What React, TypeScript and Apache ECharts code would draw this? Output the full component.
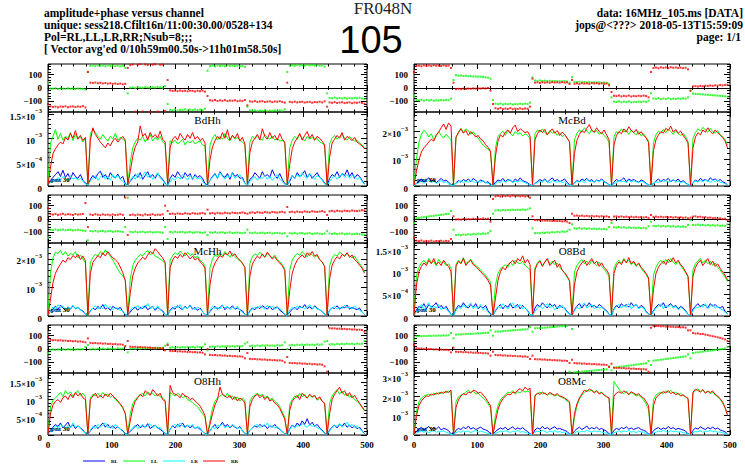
import React, { useEffect, useRef } from "react";
import * as echarts from "echarts";

// channel spacing of the samples: 16 samples per 62.5-channel subband, 8 subbands
const STEP = 62.5 / 16;
const X_TICKS = [0, 100, 200, 300, 400, 500];
const PHASE_TICKS = [-100, 0, 100];

// ---------- amplitudes, in units of 1e-5 ----------
const L1_RR = [
  2,40,68,78,86,92,88,102,96,110,100,116,98,106,95,102,
  4,96,122,108,100,92,86,80,90,84,95,100,92,98,104,96,
  3,30,62,82,92,126,104,110,96,112,102,108,100,115,98,92,
  5,80,98,104,96,110,102,96,108,100,112,98,104,95,100,90,
  2,55,82,95,104,98,112,100,118,96,106,100,110,94,102,88,
  4,70,92,100,108,96,120,104,98,112,100,106,96,110,98,92,
  3,45,78,92,100,110,96,106,114,100,108,96,104,100,94,86,
  2,60,90,98,106,100,112,96,104,100,95,102,92,88,84,78];
const L1_LL = [
  3,90,104,118,98,110,96,104,100,112,95,108,99,104,92,100,
  3,110,118,112,104,98,108,100,94,104,98,110,96,102,98,94,
  2,50,80,92,100,96,104,92,100,108,94,102,96,104,92,88,
  4,95,90,96,88,92,98,86,94,90,96,88,92,94,86,84,
  3,85,100,108,96,104,98,110,100,94,106,98,102,96,92,86,
  2,92,104,98,106,100,96,108,102,98,104,96,100,94,96,90,
  3,80,96,104,98,108,100,94,104,98,102,96,100,92,90,84,
  2,88,100,106,98,104,108,100,96,104,98,94,96,90,86,80];
const L1_RL = [
  2,12,18,24,30,20,33,18,26,14,28,20,16,24,12,6,
  1,14,22,16,26,31,18,24,14,28,20,17,25,15,20,5,
  2,10,16,24,18,28,14,22,30,18,24,16,26,20,14,6,
  1,16,24,18,30,22,16,28,20,26,14,24,18,22,16,5,
  2,12,20,26,16,30,22,18,26,14,28,20,24,16,18,6,
  1,14,18,28,22,16,30,20,24,18,34,22,16,26,14,5,
  2,10,22,16,28,20,24,32,18,26,16,22,28,18,14,6,
  1,16,24,20,30,18,26,22,34,20,28,16,24,20,12,4];
const L1_LR = [
  1,8,14,10,18,12,20,16,10,22,14,18,12,16,10,4,
  2,10,16,22,12,18,26,14,20,12,24,16,22,14,10,3,
  1,12,20,14,26,16,22,30,18,24,14,20,28,16,12,4,
  2,8,16,12,20,14,24,18,12,22,16,20,14,18,10,3,
  1,12,18,24,16,28,20,14,22,18,26,16,20,24,14,5,
  2,10,14,20,12,18,16,22,14,20,12,18,24,14,10,3,
  1,14,22,16,24,18,28,20,16,26,20,14,22,18,12,4,
  2,10,16,22,14,20,26,18,24,16,22,20,14,18,10,3];

const R1_RR = [
  3,55,95,125,140,150,162,172,165,188,198,214,228,208,232,220,
  4,180,196,210,194,204,186,200,190,180,186,172,166,152,142,128,
  3,110,165,188,180,198,206,194,214,224,200,210,204,196,200,184,
  5,170,192,206,196,208,188,200,210,194,204,186,198,190,176,162,
  4,120,168,190,204,196,212,226,204,198,214,200,192,206,188,170,
  3,150,186,200,192,210,198,218,204,196,208,190,200,186,178,160,
  4,130,170,188,200,194,212,204,220,198,208,194,202,186,174,158,
  3,140,180,196,188,206,198,214,200,192,206,196,188,178,166,140];
const R1_LL = [
  4,100,160,190,205,196,180,192,170,182,200,186,176,190,180,170,
  3,176,198,212,196,210,204,190,200,186,176,162,150,142,136,124,
  3,140,182,192,202,186,206,194,184,200,190,196,184,192,186,176,
  4,192,206,198,210,196,188,204,194,200,186,196,182,190,176,164,
  3,170,194,206,198,214,202,192,208,196,204,190,198,186,176,162,
  4,182,200,194,210,198,204,190,206,196,188,200,184,192,178,166,
  3,160,188,202,194,208,196,210,200,190,204,192,186,194,180,164,
  4,176,196,210,202,216,206,198,212,200,194,204,188,182,170,150];
const R1_RL = [
  2,10,18,26,14,22,30,16,24,12,20,28,18,22,14,5,
  1,12,20,14,24,18,26,16,28,20,14,22,18,12,16,4,
  2,14,22,18,28,16,24,20,14,26,18,30,20,16,12,5,
  1,10,16,24,18,26,14,22,30,18,24,16,20,26,14,4,
  2,12,20,16,26,20,28,18,24,14,22,18,26,16,12,5,
  1,14,24,18,22,30,16,26,20,24,18,14,22,18,10,4,
  2,10,18,26,16,24,20,28,16,22,18,26,14,20,12,5,
  1,12,22,16,28,20,24,18,30,22,26,18,24,16,12,4];
const R1_LR = [
  1,8,12,18,10,16,22,12,18,10,14,20,12,16,8,3,
  2,10,14,20,12,18,14,22,16,12,18,14,20,12,10,3,
  1,8,16,12,20,14,18,24,12,18,14,20,16,12,8,4,
  2,10,12,18,14,22,16,12,20,16,14,18,12,16,8,3,
  1,12,18,14,20,12,24,16,18,14,20,16,22,14,10,4,
  2,8,14,20,16,18,12,22,14,20,16,12,18,14,8,3,
  1,10,16,12,22,16,20,14,18,24,14,18,12,16,10,4,
  2,12,18,14,20,16,22,18,14,20,16,22,14,12,8,3];

const L2_RR = [
  2,60,118,150,168,182,196,188,204,198,212,204,216,198,210,194,
  3,150,188,200,212,204,222,210,226,214,204,198,188,172,152,124,
  2,80,140,168,186,196,206,198,214,226,218,236,226,214,204,188,
  4,170,196,210,202,216,206,222,212,200,210,196,204,190,182,168,
  3,110,162,186,200,212,206,220,214,228,210,218,204,196,186,170,
  2,140,182,198,210,202,218,206,224,212,200,208,194,186,176,160,
  3,90,150,178,196,206,214,204,222,212,226,210,216,198,190,174,
  2,130,178,196,208,200,216,210,222,206,214,198,190,178,168,150];
const L2_LL = [
  3,150,204,224,218,230,214,226,210,220,214,226,204,214,200,186,
  2,188,206,216,210,226,214,232,220,210,196,180,164,150,140,128,
  3,130,176,196,206,216,210,222,230,214,222,210,206,200,194,184,
  2,196,212,222,214,228,218,210,224,212,218,204,210,196,188,176,
  3,170,200,214,208,222,212,226,216,206,220,208,200,194,184,172,
  2,184,208,218,212,224,214,206,220,210,204,214,198,190,180,166,
  3,160,196,210,220,212,226,216,208,222,214,206,212,198,188,174,
  2,176,204,216,210,224,218,208,220,212,204,210,196,184,172,156];
const L2_RL = [
  3,16,26,34,22,38,28,20,32,24,36,26,30,22,18,6,
  2,18,28,22,34,26,40,24,30,20,34,28,24,30,16,5,
  3,14,24,32,20,30,26,36,22,28,34,20,30,24,18,6,
  2,20,30,24,36,28,22,34,26,38,24,30,20,28,16,5,
  3,16,26,34,24,30,38,22,32,26,36,24,28,22,18,6,
  2,18,28,22,32,26,36,30,24,34,22,28,32,20,14,5,
  3,14,24,30,22,34,28,40,26,32,24,36,26,22,16,6,
  2,20,30,26,36,24,32,28,38,24,30,26,22,28,14,5];
const L2_LR = [
  2,20,32,24,40,28,36,22,30,26,38,24,32,20,16,5,
  3,16,28,36,24,32,26,42,28,34,22,30,26,20,18,6,
  2,22,30,26,38,24,34,28,44,26,32,24,36,22,14,5,
  3,18,26,34,28,40,24,30,26,36,28,22,32,24,16,6,
  2,20,34,26,30,24,38,28,34,22,30,26,34,20,14,5,
  3,16,24,32,26,36,30,24,38,28,34,24,30,26,18,6,
  2,22,30,24,36,28,32,26,30,40,26,32,24,22,16,5,
  3,18,28,34,24,30,26,38,28,32,24,36,26,20,14,6];

const R2_RR = [
  2,70,100,112,120,114,126,118,130,116,122,114,126,118,112,100,
  3,112,124,118,130,114,122,126,116,112,106,100,94,88,80,70,
  2,40,80,100,110,104,116,120,126,118,130,124,136,120,128,116,
  4,104,118,124,112,122,130,114,120,126,110,118,104,98,90,80,
  2,70,100,112,120,126,114,122,130,118,124,112,120,110,104,94,
  3,96,114,122,116,128,120,132,118,124,114,120,110,104,96,86,
  2,60,96,110,118,124,116,128,122,132,120,126,116,110,100,90,
  3,90,110,120,126,114,122,130,116,124,112,118,108,100,92,82];
const R2_LL = [
  3,92,110,120,126,118,130,120,124,114,128,120,122,114,118,108,
  2,116,126,120,132,118,124,128,120,114,110,104,98,92,84,76,
  3,70,96,106,112,116,110,122,114,126,120,118,124,114,110,104,
  2,108,120,126,114,122,128,118,124,116,120,110,104,96,88,78,
  3,100,114,122,128,118,124,116,126,120,114,122,112,106,98,90,
  2,108,120,126,118,130,122,126,116,122,112,118,108,100,94,84,
  3,92,110,120,126,118,128,120,130,122,116,124,114,106,98,88,
  2,104,118,124,130,120,126,118,124,114,120,110,104,96,88,78];
const R2_RL = [
  2,14,22,18,28,16,26,20,24,30,18,24,16,22,12,4,
  1,16,24,20,30,22,18,26,20,28,16,22,18,24,12,5,
  2,12,20,26,16,24,20,28,18,22,26,16,24,18,12,4,
  1,18,26,20,30,24,18,28,22,26,16,24,20,18,10,5,
  2,14,22,28,18,26,22,30,20,24,18,26,22,16,12,4,
  1,16,24,18,28,22,26,20,30,22,26,18,24,20,10,5,
  2,12,20,26,22,30,18,24,28,20,24,16,22,18,12,4,
  1,16,22,28,20,26,24,18,28,22,26,20,18,22,10,5];
const R2_LR = [
  1,10,18,26,14,22,30,16,22,18,26,14,20,16,10,3,
  2,12,20,16,26,18,24,30,16,22,18,26,14,18,8,4,
  1,14,22,18,28,20,16,24,30,18,22,26,16,20,10,3,
  2,10,18,24,16,22,28,18,24,14,20,18,24,16,8,4,
  1,12,20,16,24,30,18,22,26,16,22,18,20,14,10,3,
  2,14,22,26,18,24,20,28,16,22,26,16,20,18,8,4,
  1,10,18,22,28,16,24,20,26,18,22,14,20,16,10,3,
  2,12,20,18,24,20,28,16,22,26,18,22,16,14,8,4];

const L3_RR = [
  2,60,85,95,100,92,105,110,100,115,105,120,110,118,105,100,
  3,100,110,118,105,112,104,116,108,118,110,104,96,88,78,60,
  2,40,75,95,105,115,108,125,118,112,128,120,110,118,100,95,
  4,140,120,115,112,105,118,110,108,100,104,96,90,82,70,55,
  2,30,60,85,100,135,115,110,105,112,100,108,96,104,100,90,
  2,80,100,110,115,105,112,100,108,96,100,90,85,75,60,45,
  2,70,95,105,112,100,118,110,104,115,108,112,100,108,95,90,
  2,60,100,115,125,135,118,125,110,120,105,112,100,90,80,70];
const L3_LL = [
  3,80,98,105,112,120,108,125,115,122,110,118,125,112,118,108,
  3,105,115,110,118,108,120,112,116,106,112,100,94,86,76,62,
  3,60,88,100,108,112,118,110,122,115,118,110,116,108,104,98,
  3,120,115,110,118,112,105,110,100,96,92,85,80,70,60,50,
  2,40,75,95,105,110,115,108,118,105,110,100,108,96,104,98,
  3,95,108,112,118,110,115,105,110,100,104,95,90,80,65,50,
  3,85,100,110,105,118,108,115,104,112,106,110,98,104,96,88,
  3,90,110,120,128,115,124,112,118,106,112,100,95,88,78,68];
const L3_RL = [
  2,14,22,30,24,34,20,28,36,22,30,18,26,20,14,5,
  1,12,20,28,18,26,34,22,30,20,26,18,24,16,12,4,
  2,10,18,24,30,20,26,22,32,18,24,28,20,16,10,5,
  1,16,26,20,30,24,34,22,28,20,26,18,22,16,10,4,
  2,12,22,30,18,26,36,24,30,20,28,22,18,24,12,5,
  1,14,20,26,22,30,24,28,18,26,22,30,20,16,10,4,
  2,18,28,22,34,26,40,30,46,28,36,24,30,20,14,5,
  1,14,22,28,20,30,24,34,22,28,20,26,18,22,12,4];
const L3_LR = [
  1,10,18,26,20,30,24,16,28,20,34,22,26,18,12,4,
  2,14,24,18,30,22,28,34,20,26,18,30,22,16,10,3,
  1,12,20,28,18,24,30,22,26,32,20,28,18,22,12,4,
  2,16,24,30,22,34,26,20,28,24,30,18,24,20,10,3,
  1,12,22,18,28,24,32,20,26,22,30,24,18,22,12,4,
  2,14,20,26,30,20,28,24,34,22,26,20,24,16,10,3,
  1,16,26,20,28,24,32,26,22,30,24,28,20,18,12,4,
  2,12,20,28,24,32,22,28,36,24,30,22,26,18,10,3];

const R3_RR = [
  2,100,150,175,190,200,198,210,205,215,210,220,214,225,218,230,
  2,140,180,200,212,205,220,215,230,225,215,220,205,190,170,150,
  2,70,130,165,185,200,210,205,220,215,230,238,225,245,232,240,
  3,200,215,208,220,212,206,218,210,204,212,200,196,190,180,170,
  2,110,160,190,210,230,222,236,228,216,226,210,218,204,196,190,
  3,200,215,222,214,226,218,210,222,214,206,212,198,190,172,150,
  2,150,190,205,214,222,216,228,212,220,206,214,200,206,196,188,
  4,220,235,228,220,232,214,224,218,226,208,200,186,170,140,100];
const R3_LL = [
  3,120,170,190,200,205,210,202,215,208,220,212,222,216,225,220,
  3,170,195,205,210,220,230,218,225,210,214,200,190,176,160,140,
  3,100,150,180,195,205,220,215,228,210,222,216,230,220,226,218,
  2,205,212,220,210,216,204,212,208,200,206,198,192,186,175,165,
  3,90,150,185,205,218,230,224,232,220,228,214,220,206,198,188,
  4,275,255,235,220,212,225,205,218,210,200,206,192,180,160,130,
  3,180,205,214,220,212,226,218,230,214,220,208,214,202,196,185,
  3,215,230,236,224,230,218,226,212,220,204,196,182,164,140,105];
const R3_RL = [
  3,20,30,40,26,34,44,28,36,30,42,26,34,30,22,6,
  2,24,34,28,40,32,46,30,38,28,34,40,30,26,20,5,
  3,18,28,36,30,40,26,34,42,28,36,30,38,26,18,6,
  2,26,36,30,44,32,38,28,36,42,30,34,28,24,18,5,
  3,20,32,40,28,36,46,30,38,32,40,28,34,26,20,6,
  2,24,34,28,38,32,42,30,36,28,34,38,28,24,18,5,
  3,22,32,38,28,36,30,44,32,38,28,34,30,26,20,6,
  2,24,36,30,42,34,28,38,32,40,30,36,26,22,16,5];
const R3_LR = [
  2,10,16,22,14,20,12,18,24,14,20,16,22,14,10,3,
  1,12,18,14,22,16,20,12,18,24,14,20,16,12,8,2,
  2,8,14,20,16,22,18,12,20,16,24,14,18,14,10,3,
  1,14,20,16,24,18,12,20,16,22,14,18,12,16,8,2,
  2,10,18,14,20,16,24,18,14,22,16,20,14,12,10,3,
  1,12,16,22,14,20,18,24,14,18,12,20,16,14,8,2,
  2,10,14,20,16,24,18,14,22,16,20,14,18,12,10,3,
  1,12,18,16,22,14,20,18,24,16,20,14,16,12,8,2];

// ---------- phases, degrees ----------
const L1_PH_RR = [
  -120,-138,-142,-140,-145,-139,-141,-137,-144,-140,-138,-143,-139,-141,-136,-146,
  120,40,38,41,36,39,34,37,33,36,31,34,30,33,28,31,
  150,172,176,-178,174,179,-176,177,173,-179,175,178,-177,174,176,-172,
  60,-18,-22,-20,-24,-19,-23,-21,-25,-20,-22,-26,-21,-24,-20,-28,
  -60,-92,-95,-90,-97,-93,-96,-91,-98,-94,-96,-92,-99,-95,-97,-90,
  -130,-100,-103,-98,-104,-101,-99,-105,-102,-100,-106,-101,-103,-99,-104,-110,
  40,-104,-107,-102,-108,-105,-103,-109,-106,-104,-110,-105,-107,-103,-108,-100,
  -140,-108,-111,-106,-112,-109,-107,-113,-110,-108,-114,-109,-111,-107,-112,-118];
const L1_PH_LL = [
  40,-4,-6,-2,-8,-3,-5,-7,-2,-6,-4,-8,-3,-5,-6,-12,
  120,166,169,164,171,167,168,163,170,165,169,164,167,162,166,150,
  -40,2,5,0,6,3,1,7,4,2,6,3,8,5,2,14,
  -120,-163,-167,-161,-169,-164,-166,-160,-168,-163,-166,-161,-165,-162,-167,-155,
  130,164,167,162,169,165,168,163,170,166,168,164,167,163,166,158,
  -140,-168,-171,-166,-173,-169,-172,-167,-174,-170,-172,-168,-171,-167,-170,-160,
  120,168,171,166,173,169,172,167,174,170,172,168,171,167,170,160,
  -40,-74,-77,-72,-79,-75,-78,-73,-80,-76,-78,-74,-77,-73,-79,-84];
const R1_PH_RR = [
  120,165,168,163,170,166,169,164,171,167,168,165,170,166,168,150,
  40,-8,-6,-9,-5,-7,-4,-6,-3,-5,-2,-4,-1,-3,0,-20,
  -120,-152,-156,-150,-158,-154,-157,-151,-159,-155,-157,-153,-158,-154,-156,-140,
  70,40,42,38,44,40,43,39,45,41,43,40,44,41,42,30,
  60,32,35,30,36,33,35,31,37,34,36,32,35,31,34,20,
  -30,-58,-61,-56,-63,-59,-62,-57,-64,-60,-62,-58,-61,-57,-60,-70,
  120,150,153,148,155,151,154,149,156,152,154,150,153,149,152,140,
  -20,12,14,11,16,13,17,15,19,16,20,18,22,19,23,25];
const R1_PH_LL = [
  -60,-90,-93,-88,-95,-91,-94,-89,-96,-92,-94,-90,-93,-89,-92,-80,
  60,96,93,94,90,91,88,89,86,87,84,85,82,80,78,70,
  -90,-118,-121,-116,-123,-119,-122,-117,-124,-120,-122,-118,-121,-117,-120,-110,
  80,56,54,57,53,55,52,54,51,53,50,52,49,51,48,40,
  80,46,44,47,43,45,42,44,41,43,40,42,39,41,38,30,
  -70,-102,-105,-100,-107,-103,-106,-101,-108,-104,-106,-102,-105,-101,-104,-95,
  -40,-78,-81,-76,-83,-79,-82,-77,-84,-80,-82,-78,-81,-77,-80,-70,
  -20,-42,-44,-45,-47,-48,-50,-51,-53,-54,-56,-57,-59,-60,-62,-65];
const L2_PH_RR = [
  80,36,33,38,31,35,39,32,36,34,30,37,33,35,38,120,
  -60,34,30,36,32,29,35,31,33,28,34,30,32,36,31,160,
  -120,30,34,28,33,31,27,35,30,32,36,29,33,31,35,100,
  60,38,41,36,42,39,37,43,40,38,44,41,39,42,45,40,
  70,42,45,40,46,43,41,47,44,42,48,45,43,46,49,44,
  40,47,50,45,51,48,46,52,49,47,53,50,48,51,54,49,
  90,52,55,50,56,53,51,57,54,52,58,55,53,56,59,54,
  30,58,61,56,62,59,57,63,60,58,64,61,59,62,66,64];
const L2_PH_LL = [
  -140,-80,-83,-78,-84,-81,-79,-85,-82,-80,-86,-83,-81,-84,-87,-90,
  -160,-90,-93,-88,-94,-91,-89,-95,-92,-90,-96,-93,-91,-94,-97,-60,
  160,-96,-99,-94,-100,-97,-95,-101,-98,-96,-102,-99,-97,-100,-103,-60,
  -150,-97,-100,-95,-101,-98,-96,-102,-99,-97,-103,-100,-98,-101,-104,-100,
  -120,-100,-103,-98,-104,-101,-99,-105,-102,-100,-106,-103,-101,-104,-107,-103,
  -80,-103,-106,-101,-107,-104,-102,-108,-105,-103,-109,-106,-104,-107,-110,-106,
  -130,-106,-109,-104,-110,-107,-105,-111,-108,-106,-112,-109,-107,-110,-113,-109,
  -90,-109,-112,-107,-113,-110,-108,-114,-111,-109,-115,-112,-110,-113,-116,-118];
const R2_PH_RR = [
  -140,-163,-166,-161,-168,-164,-167,-162,-169,-165,-167,-163,-168,-164,-166,-150,
  20,-4,-2,-5,0,-3,1,-2,2,-1,3,0,4,1,2,-20,
  150,170,173,168,175,171,174,169,176,172,174,170,173,169,172,160,
  20,-8,-10,-9,-12,-11,-13,-12,-15,-14,-16,-15,-18,-17,-19,-30,
  40,24,26,22,25,21,24,20,23,19,22,18,21,17,20,15,
  -10,18,20,16,19,15,18,14,17,13,16,12,15,11,14,8,
  30,16,18,14,17,13,16,12,15,11,14,10,13,9,12,5,
  10,18,20,15,17,12,14,9,11,6,8,3,5,0,2,-8];
const R2_PH_LL = [
  -30,6,9,12,14,17,19,22,24,27,29,32,34,37,39,60,
  -80,-120,-118,-121,-116,-119,-114,-117,-112,-115,-110,-113,-108,-111,-106,-90,
  40,64,66,63,67,65,68,66,69,67,70,68,71,69,72,80,
  -70,-106,-104,-107,-102,-105,-100,-103,-98,-101,-96,-99,-94,-97,-92,-80,
  -40,-70,-72,-68,-73,-70,-74,-71,-75,-72,-76,-73,-77,-74,-78,-60,
  -30,-62,-64,-60,-65,-62,-66,-63,-67,-64,-68,-65,-69,-66,-70,-55,
  -20,-52,-54,-50,-55,-52,-56,-53,-57,-54,-58,-55,-59,-56,-60,-45,
  -10,-44,-46,-42,-47,-44,-48,-45,-49,-46,-50,-47,-51,-48,-52,-40];
const L3_PH_RR = [
  90,68,66,67,64,65,62,63,60,61,58,59,56,57,54,50,
  80,46,44,45,42,43,40,41,38,39,36,37,34,35,32,20,
  60,18,16,17,14,15,12,13,10,11,8,9,6,7,4,-10,
  30,-14,-16,-15,-18,-17,-20,-19,-22,-21,-24,-23,-26,-25,-28,-40,
  0,-44,-46,-45,-48,-47,-50,-49,-52,-51,-54,-53,-56,-55,-58,-70,
  -30,-74,-76,-75,-78,-77,-80,-79,-82,-81,-84,-83,-86,-85,-88,-100,
  -60,-104,-106,-105,-108,-107,-110,-109,-112,-111,-114,-113,-116,-115,-118,-130,
  -170,156,154,155,152,153,150,151,148,149,146,147,144,145,142,130];
const L3_PH_LL = [
  -30,-6,-4,-7,-3,-5,-2,-6,-1,-4,-3,-5,-1,-3,0,15,
  30,-2,1,-3,2,0,3,-1,4,1,3,0,5,2,4,20,
  -25,3,6,2,7,4,8,5,9,6,8,4,10,7,9,25,
  40,10,13,9,14,11,15,12,16,13,15,11,17,14,16,35,
  -10,16,19,15,20,17,21,18,22,19,21,17,23,20,22,40,
  50,22,25,21,26,23,27,24,28,25,27,23,29,26,28,50,
  0,28,31,27,32,29,33,30,34,31,33,29,35,32,34,55,
  60,34,37,33,38,35,39,36,40,37,39,35,41,38,40,60];
const R3_PH_RR = [
  30,5,3,4,1,2,-1,0,-3,-2,-5,-4,-7,-6,-9,-25,
  10,-20,-22,-21,-24,-23,-26,-25,-28,-27,-30,-29,-32,-31,-34,-50,
  -20,-45,-47,-46,-49,-48,-51,-50,-53,-52,-55,-54,-57,-56,-59,-75,
  -50,-76,-78,-77,-80,-79,-82,-81,-84,-83,-86,-85,-88,-87,-90,-105,
  -80,-106,-108,-107,-110,-109,-112,-111,-114,-113,-116,-115,-118,-117,-120,-135,
  -110,-140,-142,-141,-144,-143,-146,-145,-148,-147,-150,-149,-152,-151,-154,-170,
  160,174,172,173,170,171,168,169,166,167,164,165,162,163,160,140,
  140,120,116,117,112,113,108,104,100,96,92,88,84,78,72,60];
const R3_PH_LL = [
  70,95,97,96,98,97,99,98,100,99,101,100,102,101,103,120,
  80,108,110,109,111,112,114,113,115,116,118,117,119,120,122,140,
  100,130,132,131,134,135,137,138,140,141,143,144,146,147,149,165,
  130,155,157,156,159,160,162,163,165,166,168,169,171,172,174,-170,
  150,-175,-173,-172,-170,-168,-166,-165,-163,-161,-159,-158,-156,-154,-152,-130,
  -160,-140,-137,-135,-132,-130,-127,-125,-122,-120,-117,-115,-112,-110,-107,-90,
  -120,-88,-85,-83,-80,-78,-75,-73,-70,-68,-65,-63,-60,-58,-55,-40,
  -70,-30,-27,-25,-22,-20,-17,-15,-12,-10,-7,-5,-2,0,3,15];

const PANELS = [
  { name: "BdHh", row: 0, col: 0, ampMax: 155, ampTicks: [0, 50, 100, 150], minor: 10, rl: L1_RL, ll: L1_LL, lr: L1_LR, rr: L1_RR, phRR: L1_PH_RR, phLL: L1_PH_LL },
  { name: "McBd", row: 0, col: 1, ampMax: 272, ampTicks: [0, 100, 200], minor: 20, rl: R1_RL, ll: R1_LL, lr: R1_LR, rr: R1_RR, phRR: R1_PH_RR, phLL: R1_PH_LL },
  { name: "McHh", row: 1, col: 0, ampMax: 256, ampTicks: [0, 100, 200], minor: 20, rl: L2_RL, ll: L2_LL, lr: L2_LR, rr: L2_RR, phRR: L2_PH_RR, phLL: L2_PH_LL },
  { name: "O8Bd", row: 1, col: 1, ampMax: 165, ampTicks: [0, 50, 100, 150], minor: 10, rl: R2_RL, ll: R2_LL, lr: R2_LR, rr: R2_RR, phRR: R2_PH_RR, phLL: R2_PH_LL },
  { name: "O8Hh", row: 2, col: 0, ampMax: 175, ampTicks: [0, 50, 100, 150], minor: 10, rl: L3_RL, ll: L3_LL, lr: L3_LR, rr: L3_RR, phRR: L3_PH_RR, phLL: L3_PH_LL },
  { name: "O8Mc", row: 2, col: 1, ampMax: 318, ampTicks: [0, 100, 200, 300], minor: 20, rl: R3_RL, ll: R3_LL, lr: R3_LR, rr: R3_RR, phRR: R3_PH_RR, phLL: R3_PH_LL },
];

const LEGEND = [
  { name: "RL", color: "#0000ff" },
  { name: "LL", color: "#00ff00" },
  { name: "LR", color: "#00ffff" },
  { name: "RR", color: "#ff0000" },
];

// ---------- layout ----------
const COLS = [{ left: 48, width: 319 }, { left: 414, width: 316 }];
const ROWS = [
  { phTop: 64, phH: 48, ampTop: 112, ampH: 74 },
  { phTop: 195, phH: 48, ampTop: 243, ampH: 73 },
  { phTop: 325, phH: 48, ampTop: 373, ampH: 62 },
];
const SERIF = "'Liberation Serif', 'DejaVu Serif', serif";
const HEAD = "bold 11.5px " + SERIF;

function range(a: number, b: number, s: number) {
  const out: number[] = [];
  for (let v = a; v <= b + 1e-9; v += s) out.push(v);
  return out;
}

function ampLabel(v: number) {
  if (v === 0) return "{b|0}";
  if (v < 100) return `{b|${v / 10}×10}{s|−4}`;
  const m = v / 100;
  return m === 1 ? "{b|10}{s|−3}" : `{b|${m}×10}{s|−3}`;
}

function buildOption() {
  const grid: any[] = [];
  const xAxis: any[] = [];
  const yAxis: any[] = [];
  const series: any[] = [];
  const graphic: any[] = [];
  const black = { color: "#000", width: 1 };
  const labelFont = { color: "#000", fontFamily: SERIF, fontSize: 9, fontWeight: "bold" };
  const rich = {
    b: { ...labelFont, lineHeight: 14, verticalAlign: "bottom" },
    s: { ...labelFont, fontSize: 6.5, verticalAlign: "top" },
  };

  const addX = (g: number, labels: boolean, zero: boolean) => {
    const base = {
      type: "value", gridIndex: g, min: 0, max: 500, interval: 100,
      splitLine: { show: false }, minorSplitLine: { show: false },
      axisLine: { show: false, onZero: false },
      axisTick: { show: true, inside: true, length: 5, lineStyle: black },
      minorTick: { show: true, splitNumber: 5, length: 2.5, lineStyle: black },
      axisLabel: { show: false },
    };
    const idx = xAxis.length;
    xAxis.push({ ...base, position: "bottom", axisLabel: labels ? { show: true, ...labelFont, margin: 5, customValues: X_TICKS } : { show: false } });
    xAxis.push({ ...base, position: "top" });
    if (zero) {
      xAxis.push({ ...base, position: "bottom", axisLine: { show: true, onZero: true, lineStyle: black }, axisTick: { show: true, inside: true, length: 3, lineStyle: black }, minorTick: { show: true, splitNumber: 5, length: 2, lineStyle: black } });
      xAxis.push({ ...base, position: "top", axisLine: { show: false, onZero: true }, axisTick: { show: true, inside: true, length: 3, lineStyle: black }, minorTick: { show: true, splitNumber: 5, length: 2, lineStyle: black } });
    }
    return idx;
  };

  const addY = (g: number, min: number, max: number, major: number[], minor: number[], fmt: any, useRich: boolean) => {
    const base = { type: "value", gridIndex: g, min, max, splitLine: { show: false }, axisLine: { show: false, onZero: false } };
    const idx = yAxis.length;
    yAxis.push({
      ...base, position: "left",
      axisTick: { show: true, inside: true, length: 6, customValues: major, lineStyle: black },
      axisLabel: { show: true, customValues: major, formatter: fmt, ...labelFont, margin: 6, ...(useRich ? { rich } : {}) },
    });
    yAxis.push({ ...base, position: "right", axisTick: { show: true, inside: true, length: 6, customValues: major, lineStyle: black }, axisLabel: { show: false } });
    yAxis.push({ ...base, position: "left", axisTick: { show: true, inside: true, length: 3, customValues: minor, lineStyle: black }, axisLabel: { show: false } });
    yAxis.push({ ...base, position: "right", axisTick: { show: true, inside: true, length: 3, customValues: minor, lineStyle: black }, axisLabel: { show: false } });
    return idx;
  };

  const txt = (text: string, x: number, y: number, font: string, align = "left", fill = "#000") => ({
    type: "text", x, y, silent: true, z: 100,
    style: { text, font, fill, textAlign: align, align, textVerticalAlign: "middle", verticalAlign: "middle" },
  });

  PANELS.forEach((p) => {
    const c = COLS[p.col];
    const r = ROWS[p.row];
    // phase panel
    const gPh = grid.length;
    grid.push({ left: c.left, top: r.phTop, width: c.width, height: r.phH, show: true, borderColor: "#000", borderWidth: 1, backgroundColor: "transparent", containLabel: false, outerBoundsMode: "none" });
    const xPh = addX(gPh, false, true);
    const yPh = addY(gPh, -180, 180, PHASE_TICKS, range(-180, 180, 20), (v: number) => (v < 0 ? "−" + -v : String(v)), false);
    series.push({ type: "scatter", xAxisIndex: xPh, yAxisIndex: yPh, symbol: "rect", symbolSize: 2, itemStyle: { color: "#00ff00" }, silent: true, data: p.phLL.map((v, j) => [j * STEP, v]) });
    series.push({ type: "scatter", xAxisIndex: xPh, yAxisIndex: yPh, symbol: "rect", symbolSize: 2, itemStyle: { color: "#ff0000" }, silent: true, data: p.phRR.map((v, j) => [j * STEP, v]) });

    // amplitude panel
    const gA = grid.length;
    grid.push({ left: c.left, top: r.ampTop, width: c.width, height: r.ampH, show: true, borderColor: "#000", borderWidth: 1, backgroundColor: "transparent", containLabel: false, outerBoundsMode: "none" });
    const xA = addX(gA, p.row === 2, false);
    const yA = addY(gA, 0, p.ampMax, p.ampTicks, range(0, p.ampMax, p.minor), ampLabel, true);
    const lines: [number[], string][] = [[p.rl, LEGEND[0].color], [p.ll, LEGEND[1].color], [p.lr, LEGEND[2].color], [p.rr, LEGEND[3].color]];
    lines.forEach(([arr, color]) => {
      series.push({ type: "line", xAxisIndex: xA, yAxisIndex: yA, showSymbol: false, symbol: "none", silent: true, lineStyle: { width: 1, color }, itemStyle: { color }, data: arr.map((v, j) => [j * STEP, v]) });
    });

    graphic.push(txt(p.name, c.left + c.width / 2, r.ampTop + 8, "11px " + SERIF, "center"));
    graphic.push(txt("pnt 30", c.left + 3, r.ampTop + r.ampH - 6, "bold 7px " + SERIF));
  });

  // header
  graphic.push(txt("amplitude+phase versus channel", 44, 13, HEAD));
  graphic.push(txt("unique: sess218.Cfilt16n/11:00:30.00/0528+134", 44, 25, HEAD));
  graphic.push(txt("Pol=RL,LL,LR,RR;Nsub=8;;;", 44, 37, HEAD));
  graphic.push(txt("[ Vector avg'ed 0/10h59m00.50s->11h01m58.50s]", 44, 49, HEAD));
  graphic.push(txt("data: 16MHz_105.ms [DATA]", 743, 13, HEAD, "right"));
  graphic.push(txt("jops@<???> 2018-05-13T15:59:09", 743, 25, HEAD, "right"));
  graphic.push(txt("page: 1/1", 741, 37, HEAD, "right"));
  graphic.push(txt("FR048N", 383, 8, "17px " + SERIF, "center", "#222"));
  graphic.push(txt("105", 371, 40, "38px 'Liberation Sans', Arial, sans-serif", "center"));

  // legend
  LEGEND.forEach((l, i) => {
    const x0 = 83 + i * 40;
    graphic.push({ type: "line", silent: true, shape: { x1: x0, y1: 461, x2: x0 + 22, y2: 461 }, style: { stroke: l.color, lineWidth: 1 } });
    graphic.push(txt(l.name, x0 + 28, 461, "bold 5px " + SERIF));
  });

  return { animation: false, backgroundColor: "#fff", grid, xAxis, yAxis, series, graphic };
}

export default function App() {
  const ref = useRef<HTMLDivElement>(null);
  useEffect(() => {
    if (!ref.current) return;
    const chart = echarts.init(ref.current, null, { renderer: "svg" });
    chart.setOption(buildOption() as any);
    return () => chart.dispose();
  }, []);
  return <div ref={ref} style={{ position: "fixed", left: 0, top: 0, width: 745, height: 465, background: "#fff" }} />;
}
